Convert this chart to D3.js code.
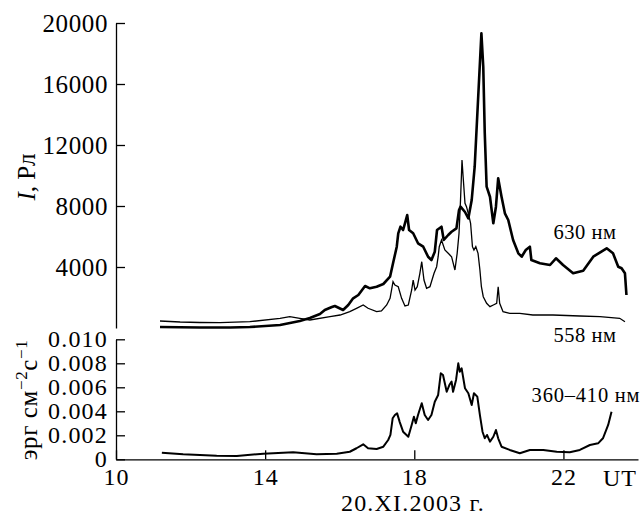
<!DOCTYPE html>
<html>
<head>
<meta charset="utf-8">
<script src="https://cdn.jsdelivr.net/npm/d3@7"></script>
<style>
  body { margin: 0; background: #fff; }
</style>
</head>
<body>
<script>
// canvas size
var width = 642,
    height = 515;
var serif = "'Liberation Serif', 'Times New Roman', serif";

// x ticks (UT hours)
var hourTicks = [10, 14, 18, 22];
var topTicks = [4000, 8000, 12000, 16000, 20000];
var bottomTicks = [0, 0.002, 0.004, 0.006, 0.008, 0.010];

// 630 nm, [hour, R]
var series630 = [
  [11.18, 66], [12.25, 33], [13.06, 33], [13.59, 66], [14.40, 197], [14.93, 459],
  [15.20, 656], [15.47, 918], [15.60, 1180], [15.79, 1377], [15.87, 1443], [16.09, 1180],
  [16.23, 1508], [16.36, 1947], [16.50, 2164], [16.68, 2754], [16.81, 2603], [16.99, 2708],
  [17.17, 2885], [17.35, 3364], [17.43, 4242], [17.53, 5331], [17.57, 6210], [17.63, 6642],
  [17.70, 6426], [17.75, 6865], [17.81, 7411], [17.86, 6426], [17.97, 6210], [18.10, 5554],
  [18.24, 5331], [18.37, 4675], [18.46, 4459], [18.55, 5003], [18.61, 6426], [18.73, 6642],
  [18.79, 5770], [18.91, 6098], [19.00, 6314], [19.13, 6537], [19.20, 7737], [19.24, 7954],
  [19.36, 7606], [19.45, 7193], [19.54, 8393], [19.62, 10577], [19.71, 14950], [19.80, 19324],
  [19.85, 17133], [19.89, 12786], [19.94, 9265], [20.03, 8609], [20.12, 6865], [20.19, 7954],
  [20.25, 9816], [20.34, 8609], [20.43, 7521], [20.52, 7082], [20.65, 5770], [20.79, 4898],
  [20.88, 4675], [20.99, 5114], [21.10, 5331], [21.14, 4459], [21.37, 4242], [21.64, 4131],
  [21.80, 4570], [21.99, 4131], [22.26, 3587], [22.53, 3757], [22.80, 4675], [23.16, 5226],
  [23.33, 4898], [23.47, 4019], [23.56, 3915], [23.65, 3587], [23.69, 2164]
];

// 558 nm, [hour, R]
var series558 = [
  [11.18, 459], [11.72, 393], [12.25, 361], [12.79, 350], [13.59, 413], [14.40, 636],
  [14.66, 741], [14.93, 636], [15.20, 525], [15.74, 741], [16.01, 852], [16.27, 1069],
  [16.45, 1292], [16.63, 1508], [16.76, 1292], [16.99, 1069], [17.12, 1115], [17.26, 1508],
  [17.35, 1947], [17.43, 3036], [17.48, 2820], [17.57, 2708], [17.66, 1947], [17.75, 1443],
  [17.84, 1508], [17.93, 2492], [17.97, 3147], [18.02, 2492], [18.08, 2708], [18.15, 3587],
  [18.20, 4347], [18.26, 3147], [18.33, 2603], [18.42, 2708], [18.53, 3587], [18.60, 4019],
  [18.64, 4675], [18.67, 5331], [18.73, 5770], [18.82, 5114], [18.91, 4898], [19.00, 4675],
  [19.09, 3803], [19.15, 4898], [19.20, 6210], [19.24, 8393], [19.28, 11016], [19.31, 9921],
  [19.36, 8177], [19.40, 7954], [19.47, 7298], [19.51, 6865], [19.56, 5331], [19.60, 5114],
  [19.65, 5331], [19.71, 4898], [19.76, 3803], [19.80, 2708], [19.85, 2052], [19.94, 1620],
  [20.03, 1397], [20.12, 1508], [20.21, 1620], [20.25, 2708], [20.29, 1620], [20.38, 1069],
  [20.56, 964], [20.83, 964], [21.18, 852], [21.72, 852], [22.44, 787], [22.98, 741],
  [23.51, 636], [23.65, 413]
];

// 360-410 nm, [hour, erg cm^-2 s^-1]
var series360 = [
  [11.23, 0.00055], [11.80, 0.00042], [12.70, 0.00030], [13.24, 0.00028], [13.95, 0.00047],
  [14.75, 0.00058], [15.38, 0.00042], [15.92, 0.00047], [16.27, 0.00063], [16.45, 0.00092],
  [16.63, 0.00125], [16.76, 0.00092], [16.99, 0.00086], [17.17, 0.00105], [17.30, 0.00161],
  [17.36, 0.00203], [17.42, 0.00342], [17.48, 0.00369], [17.54, 0.00383], [17.61, 0.00310],
  [17.70, 0.00230], [17.84, 0.00188], [17.93, 0.00286], [17.99, 0.00355], [18.04, 0.00300],
  [18.10, 0.00369], [18.20, 0.00467], [18.28, 0.00369], [18.37, 0.00328], [18.46, 0.00369],
  [18.55, 0.00480], [18.64, 0.00536], [18.71, 0.00717], [18.77, 0.00703], [18.87, 0.00563],
  [18.94, 0.00619], [19.00, 0.00647], [19.04, 0.00563], [19.12, 0.00661], [19.18, 0.00800],
  [19.22, 0.00730], [19.27, 0.00758], [19.36, 0.00592], [19.45, 0.00550], [19.54, 0.00453],
  [19.60, 0.00550], [19.69, 0.00522], [19.76, 0.00369], [19.83, 0.00230], [19.89, 0.00175],
  [19.95, 0.00203], [20.03, 0.00147], [20.12, 0.00188], [20.19, 0.00244], [20.25, 0.00175],
  [20.34, 0.00105], [20.56, 0.00078], [20.83, 0.00050], [21.10, 0.00078], [21.46, 0.00078],
  [21.82, 0.00063], [22.17, 0.00058], [22.44, 0.00078], [22.71, 0.00119], [22.93, 0.00133],
  [23.06, 0.00175], [23.20, 0.00286], [23.29, 0.00397]
];

var svg = d3.select("body").append("svg")
    .attr("width", width)
    .attr("height", height)
    .style("font-family", serif);

// scales
var x = d3.scaleLinear().domain([10, 24]).range([116, 638]);
var yTop = d3.scaleLinear().domain([0, 20000]).range([328, 23]);
var yBot = d3.scaleLinear().domain([0, 0.010]).range([459.3, 339.3]);

function styleAxis(size, spacing) {
  return function(g) {
    g.attr("font-family", null).attr("font-size", null);
    g.selectAll("path, line").attr("stroke", "#000").attr("stroke-width", 1.3);
    g.selectAll("text").style("font-family", serif).style("font-size", size + "px")
      .style("letter-spacing", spacing + "px").attr("fill", "#000");
  };
}

// top y axis
svg.append("g")
    .attr("transform", "translate(116,0)")
    .call(d3.axisLeft(yTop).tickValues(topTicks).tickFormat(d3.format("d"))
      .tickSizeInner(-9).tickSizeOuter(0).tickPadding(8))
    .call(styleAxis(25, 0.6));

// bottom y axis
svg.append("g")
    .attr("transform", "translate(116,0)")
    .call(d3.axisLeft(yBot).tickValues(bottomTicks)
      .tickFormat(function(d){ return d === 0 ? "0" : d3.format(".3f")(d); })
      .tickSizeInner(-9).tickSizeOuter(0).tickPadding(8))
    .call(styleAxis(24, 1.2));

// x axis
svg.append("g")
    .attr("transform", "translate(0,459.3)")
    .call(d3.axisBottom(x).tickValues(hourTicks).tickFormat(d3.format("d"))
      .tickSizeInner(-9).tickSizeOuter(0).tickPadding(9))
    .call(styleAxis(24, 1));

var lineTop = d3.line().x(function(d){ return x(d[0]); }).y(function(d){ return yTop(d[1]); });
var lineBot = d3.line().x(function(d){ return x(d[0]); }).y(function(d){ return yBot(d[1]); });

svg.append("path").datum(series558)
    .attr("d", lineTop).attr("fill", "none").attr("stroke", "#000").attr("stroke-width", 1.3);
svg.append("path").datum(series630)
    .attr("d", lineTop).attr("fill", "none").attr("stroke", "#000").attr("stroke-width", 2.6)
    .attr("stroke-linejoin", "round");
svg.append("path").datum(series360)
    .attr("d", lineBot).attr("fill", "none").attr("stroke", "#000").attr("stroke-width", 2)
    .attr("stroke-linejoin", "round");

// labels
svg.append("text").attr("x", 637).attr("y", 486).attr("text-anchor", "end")
    .style("font-size", "24px").style("letter-spacing", "1px").text("UT");
svg.append("text").attr("x", 413).attr("y", 511).attr("text-anchor", "middle")
    .style("font-size", "24px").style("letter-spacing", "1.2px").text("20.XI.2003 г.");

svg.append("text").attr("x", 585).attr("y", 239).attr("text-anchor", "middle")
    .style("font-size", "20.5px").style("letter-spacing", "0.5px").text("630 нм");
svg.append("text").attr("x", 585).attr("y", 342).attr("text-anchor", "middle")
    .style("font-size", "20.5px").style("letter-spacing", "0.5px").text("558 нм");
svg.append("text").attr("x", 586).attr("y", 402).attr("text-anchor", "middle")
    .style("font-size", "20.5px").style("letter-spacing", "0.8px").text("360\u2013410 нм");

// y titles
var t1 = svg.append("text").attr("transform", "translate(35,177) rotate(-90)")
    .attr("text-anchor", "middle").style("font-size", "25px");
t1.append("tspan").style("font-style", "italic").text("I");
t1.append("tspan").text(", Рл");

var t2 = svg.append("text").attr("transform", "translate(37,400) rotate(-90)")
    .attr("text-anchor", "middle").style("font-size", "25px").style("letter-spacing", "0.6px");
t2.append("tspan").text("эрг см");
t2.append("tspan").attr("dy", -10).style("font-size", "17px").text("\u22122");
t2.append("tspan").attr("dy", 10).text("с");
t2.append("tspan").attr("dy", -10).style("font-size", "17px").text("\u22121");
</script>
</body>
</html>
